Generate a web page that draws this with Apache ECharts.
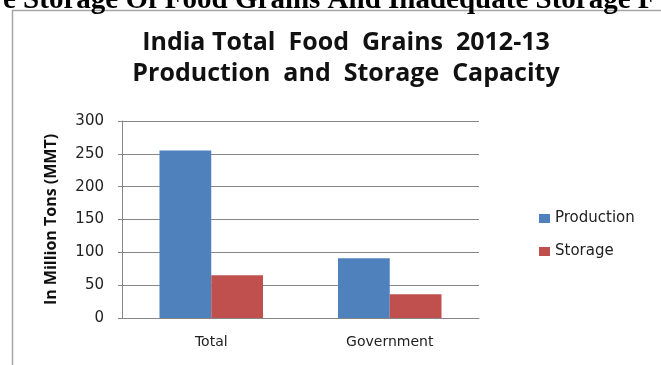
<!DOCTYPE html>
<html>
<head>
<meta charset="utf-8">
<script src="https://cdn.jsdelivr.net/npm/echarts@6/dist/echarts.min.js"></script>
<style>
  html, body { margin: 0; padding: 0; background: #fff; }
  #chart { width: 661px; height: 365px; }
</style>
</head>
<body>
<div id="chart"></div>
<script>
// data
const categories = ['Total', 'Government']
const production = [255, 91]
const storage = [65, 36]
const seriesNames = ['Production', 'Storage']

const myChart = echarts.init(document.getElementById('chart'))
const option = {
  animation: false,
  color: ['#4f81bd', '#c0504d'],
  title: [{
    text: 'e Storage Of Food Grains And Inadequate Storage F',
    left: -2,
    top: -19,
    textStyle: {
      fontFamily: 'Liberation Serif',
      fontWeight: 'bold',
      fontSize: 29,
      color: '#000'
    }
  }, {
    text: 'India Total  Food  Grains  2012-13\nProduction  and  Storage  Capacity',
    left: 341,
    top: 22,
    textAlign: 'center',
    textStyle: {
      fontFamily: 'Open Sans',
      fontWeight: 'bold',
      fontSize: 25,
      lineHeight: 31,
      color: '#111'
    }
  }],
  graphic: [{
    type: 'rect',
    shape: { x: 12.5, y: 10.5, width: 700, height: 400 },
    style: { fill: 'none', stroke: '#a6a6a6', lineWidth: 1.5 },
    silent: true
  }],
  legend: {
    orient: 'vertical',
    left: 534,
    top: 206,
    itemWidth: 11,
    itemHeight: 9,
    itemGap: 18,
    icon: 'rect',
    data: seriesNames,
    textStyle: { fontFamily: 'DejaVu Sans', fontSize: 15, color: '#222' }
  },
  grid: { left: 122, right: 182, top: 121, bottom: 47, containLabel: false },
  xAxis: {
    type: 'category',
    data: categories,
    axisLine: { lineStyle: { color: '#868686' } },
    axisTick: { show: false },
    axisLabel: { fontFamily: 'DejaVu Sans', fontSize: 14, color: '#222', margin: 17 }
  },
  yAxis: {
    type: 'value',
    min: 0,
    max: 300,
    interval: 50,
    name: 'In Million Tons (MMT)',
    nameLocation: 'middle',
    nameGap: 63,
    nameTextStyle: { fontFamily: 'Open Sans', fontWeight: 'bold', fontSize: 16, color: '#111' },
    axisLine: { show: true, lineStyle: { color: '#868686' } },
    axisTick: { show: true, length: 4, lineStyle: { color: '#868686' } },
    axisLabel: { fontFamily: 'DejaVu Sans', fontSize: 15, color: '#222', margin: 18 },
    splitLine: { lineStyle: { color: '#868686' } }
  },
  series: [{
    name: seriesNames[0],
    type: 'bar',
    data: production,
    barGap: '0%',
    barCategoryGap: '42%'
  }, {
    name: seriesNames[1],
    type: 'bar',
    data: storage
  }]
}
myChart.setOption(option)
</script>
</body>
</html>
